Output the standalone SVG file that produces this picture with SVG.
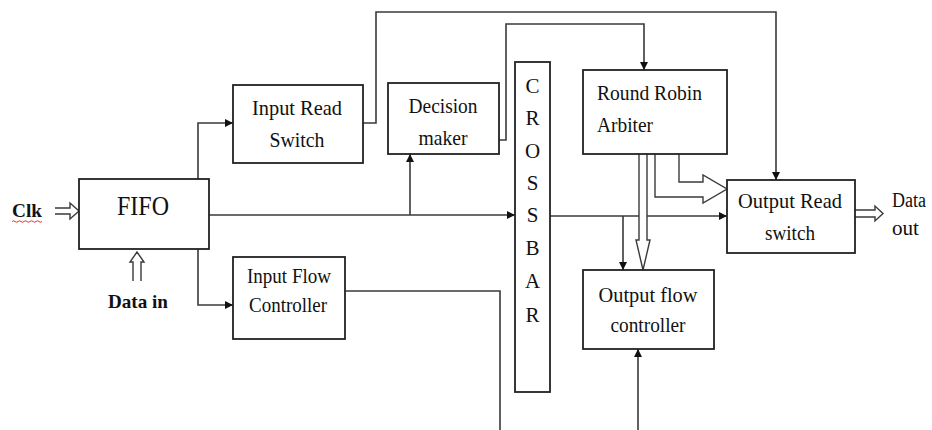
<svg xmlns="http://www.w3.org/2000/svg" width="932" height="430" viewBox="0 0 932 430">
  <defs>
    <marker id="ah" viewBox="0 0 10 10" refX="10" refY="5" markerWidth="9" markerHeight="8" markerUnits="userSpaceOnUse" orient="auto">
      <path d="M0,0 L10,5 L0,10 Z" fill="#111"/>
    </marker>
    <style>
      .box { fill: #fff; stroke: #222; stroke-width: 1.8; }
      .t { font-family: "Liberation Serif", "Times New Roman", serif; font-size: 22px; fill: #111; }
      .c { text-anchor: middle; }
      .b { font-weight: bold; font-size: 19px; }
      .ln { fill: none; stroke: #3a3a3a; stroke-width: 1.6; }
      .ar { fill: none; stroke: #3a3a3a; stroke-width: 1.6; marker-end: url(#ah); }
      .hol { fill: #fff; stroke: #3a3a3a; stroke-width: 1.4; stroke-linejoin: miter; }
    </style>
  </defs>
  <rect width="932" height="430" fill="#fff"/>

  <g id="connectors">
    <path class="ar" d="M198,179 V123 H233"/>
    <path class="ar" d="M198,249 V305 H233"/>
    <path class="ar" d="M209,215 H515"/>
    <path class="ar" d="M410,215 V154"/>
    <path class="ar" d="M363,123 H376 V12 H776 V180"/>
    <path class="ar" d="M499,140 H506 V24 H644 V70"/>
    <path class="ar" d="M550,216 H727"/>
    <path class="ar" d="M623,216 V270"/>
    <path class="ln" d="M345,291 H500 V430"/>
    <path class="ar" d="M638,430 V349"/>
    <path class="hol" d="M639,154 V240 H636 L643,270 L650,240 H647 V154"/>
    <path class="hol" d="M679,154 V182 H703 V175 L727,189 L703,203 V197 H655 V154"/>
    <path class="hol" d="M855,210 H875 V206 L883,213.5 L875,221 V217 H855"/>
    <path class="hol" d="M55,208 H70 V203 L79,211 L70,219 V214 H55"/>
    <path class="hol" d="M133,281 V262 H130 L137,252 L144,262 H141 V281"/>
  </g>

  <g id="clk">
    <text class="t b" x="12" y="217" textLength="30" lengthAdjust="spacingAndGlyphs">Clk</text>
    <path d="M12,221.5 q1.5,-1.5 3,0 t3,0 t3,0 t3,0 t3,0 t3,0 t3,0 t3,0 t3,0 t3,0" fill="none" stroke="#e03030" stroke-width="1"/>
  </g>

  <g id="data-in">
    <text class="t b c" x="138" y="308" textLength="60" lengthAdjust="spacingAndGlyphs">Data in</text>
  </g>

  <g id="fifo">
    <rect class="box" x="79" y="179" width="130" height="70"/>
    <text class="t c" x="143" y="215" style="font-size:28px" textLength="52" lengthAdjust="spacingAndGlyphs">FIFO</text>
  </g>

  <g id="input-read-switch">
    <rect class="box" x="233" y="85" width="130" height="78"/>
    <text class="t c" x="297" y="115" textLength="90" lengthAdjust="spacingAndGlyphs">Input Read</text>
    <text class="t c" x="297" y="147" textLength="55" lengthAdjust="spacingAndGlyphs">Switch</text>
  </g>

  <g id="input-flow-controller">
    <rect class="box" x="233" y="257" width="112" height="82"/>
    <text class="t c" x="289" y="283" textLength="84" lengthAdjust="spacingAndGlyphs">Input Flow</text>
    <text class="t c" x="288" y="312" textLength="78" lengthAdjust="spacingAndGlyphs">Controller</text>
  </g>

  <g id="decision-maker">
    <rect class="box" x="388" y="83" width="111" height="71"/>
    <text class="t c" x="443" y="113" textLength="69" lengthAdjust="spacingAndGlyphs">Decision</text>
    <text class="t c" x="443" y="145" textLength="49" lengthAdjust="spacingAndGlyphs">maker</text>
  </g>

  <g id="crossbar">
    <rect class="box" x="515" y="62" width="35" height="330"/>
    <g class="t c" style="font-size:21px">
      <text x="532.5" y="93">C</text>
      <text x="532.5" y="125">R</text>
      <text x="532.5" y="158">O</text>
      <text x="532.5" y="190">S</text>
      <text x="532.5" y="222">S</text>
      <text x="532.5" y="255">B</text>
      <text x="532.5" y="288">A</text>
      <text x="532.5" y="322">R</text>
    </g>
  </g>

  <g id="round-robin-arbiter">
    <rect class="box" x="583" y="70" width="144" height="84"/>
    <text class="t" x="597" y="100" textLength="105" lengthAdjust="spacingAndGlyphs">Round Robin</text>
    <text class="t" x="597" y="132" textLength="56" lengthAdjust="spacingAndGlyphs">Arbiter</text>
  </g>

  <g id="output-read-switch">
    <rect class="box" x="727" y="180" width="128" height="73"/>
    <text class="t c" x="790" y="208" textLength="104" lengthAdjust="spacingAndGlyphs">Output Read</text>
    <text class="t c" x="790" y="240" textLength="50" lengthAdjust="spacingAndGlyphs">switch</text>
  </g>

  <g id="output-flow-controller">
    <rect class="box" x="583" y="270" width="131" height="79"/>
    <text class="t c" x="648" y="302" textLength="99" lengthAdjust="spacingAndGlyphs">Output flow</text>
    <text class="t c" x="648" y="332" textLength="75" lengthAdjust="spacingAndGlyphs">controller</text>
  </g>

  <g id="data-out">
    <text class="t" x="892" y="207" style="font-size:20px" textLength="34" lengthAdjust="spacingAndGlyphs">Data</text>
    <text class="t" x="892" y="235" style="font-size:20px" textLength="27" lengthAdjust="spacingAndGlyphs">out</text>
  </g>
</svg>
